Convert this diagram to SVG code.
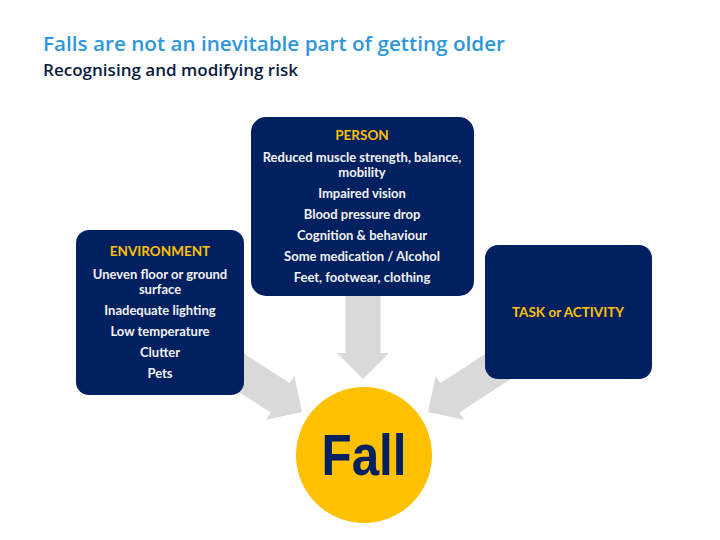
<svg xmlns="http://www.w3.org/2000/svg" width="720" height="540" viewBox="0 0 720 540">
<defs>
<style>
.box{fill:#002060;}
.lbl{font-family:Lato,"Open Sans",sans-serif;font-weight:700;font-size:13.5px;fill:#FFC000;text-anchor:middle;}
.item{font-family:Lato,"Open Sans",sans-serif;font-weight:700;font-size:13px;fill:#F2F2F2;text-anchor:middle;}
.arrow{fill:#D9D9D9;}
</style>
<path id="arr" d="M0,0 L-26,-26 L-26,-17.5 L-95,-17.5 L-95,17.5 L-26,17.5 L-26,26 Z"/>
</defs>
<rect width="720" height="540" fill="#FFFFFF"/>
<text x="43" y="51" font-family="'Open Sans',Lato,sans-serif" font-weight="600" font-size="19" fill="#2E96DC" textLength="462" lengthAdjust="spacingAndGlyphs">Falls are not an inevitable part of getting older</text>
<text x="43" y="76" font-family="'Open Sans',Lato,sans-serif" font-weight="600" font-size="16" fill="#0A1A40" textLength="255" lengthAdjust="spacingAndGlyphs">Recognising and modifying risk</text>
<g id="connectors">
<use href="#arr" class="arrow" transform="translate(363,379) rotate(90)"/>
<use href="#arr" class="arrow" transform="translate(302,412) rotate(33)"/>
<use href="#arr" class="arrow" transform="translate(428,412) rotate(147)"/>
</g>
<g id="environment">
<rect class="box" x="76" y="230" width="168" height="165" rx="13"/>
<text class="lbl" x="160" y="256">ENVIRONMENT</text>
<text class="item" x="160" y="279">Uneven floor or ground</text>
<text class="item" x="160" y="294">surface</text>
<text class="item" x="160" y="315">Inadequate lighting</text>
<text class="item" x="160" y="336">Low temperature</text>
<text class="item" x="160" y="357">Clutter</text>
<text class="item" x="160" y="378">Pets</text>
</g>
<g id="person">
<rect class="box" x="251" y="117" width="223" height="179" rx="15"/>
<text class="lbl" x="362" y="140">PERSON</text>
<text class="item" x="362" y="162">Reduced muscle strength, balance,</text>
<text class="item" x="362" y="177">mobility</text>
<text class="item" x="362" y="198">Impaired vision</text>
<text class="item" x="362" y="219">Blood pressure drop</text>
<text class="item" x="362" y="240">Cognition &amp; behaviour</text>
<text class="item" x="362" y="261">Some medication / Alcohol</text>
<text class="item" x="362" y="282">Feet, footwear, clothing</text>
</g>
<g id="task">
<rect class="box" x="485" y="245" width="167" height="134" rx="13"/>
<text class="lbl" x="568" y="317">TASK or ACTIVITY</text>
</g>
<g id="fall">
<circle cx="364" cy="455" r="68" fill="#FFC000"/>
<text x="364" y="475" font-family="'Liberation Sans',Arial,sans-serif" font-weight="700" font-size="57" fill="#002060" text-anchor="middle" textLength="85" lengthAdjust="spacingAndGlyphs">Fall</text>
</g>
</svg>
